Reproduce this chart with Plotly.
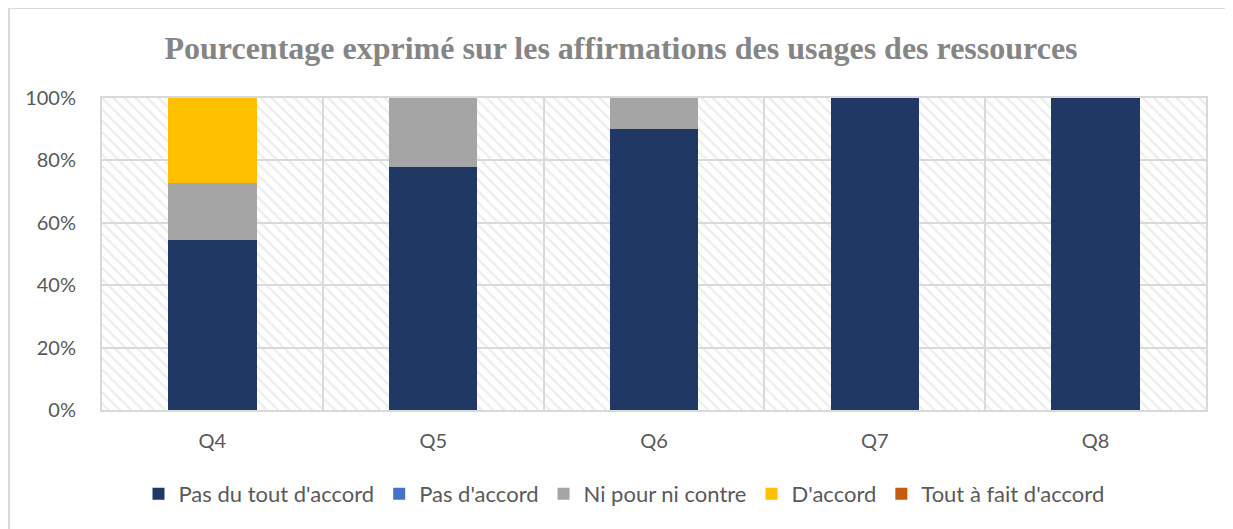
import plotly.graph_objects as go

categories = ["Q4", "Q5", "Q6", "Q7", "Q8"]
series_names = ["Pas du tout d'accord", "Pas d'accord", "Ni pour ni contre", "D'accord", "Tout à fait d'accord"]
pas_du_tout = [54.5, 77.8, 90.0, 100.0, 100.0]
pas_accord = [0, 0, 0, 0, 0]
ni_pour_ni_contre = [18.2, 22.2, 10.0, 0, 0]
d_accord = [27.3, 0, 0, 0, 0]
tout_a_fait = [0, 0, 0, 0, 0]
y_ticks = [0, 20, 40, 60, 80, 100]
y_tick_labels = ["0%", "20%", "40%", "60%", "80%", "100%"]

colors = ["#203864", "#4472c4", "#a5a5a5", "#ffc000", "#c55a11"]
values = [pas_du_tout, pas_accord, ni_pour_ni_contre, d_accord, tout_a_fait]

font_family = "Lato, 'Open Sans', sans-serif"
txt = "#595959"

fig = go.Figure()

# hatched plot-area background (main axes)
fig.add_trace(go.Bar(
    x=[2], y=[100], width=[5], base=[0],
    marker=dict(color="rgba(0,0,0,0)", line=dict(width=0),
                pattern=dict(shape="\\", fgcolor="#dcdcdc", bgcolor="rgba(0,0,0,0)",
                             size=8, solidity=0.3)),
    showlegend=False, hoverinfo="skip", xaxis="x", yaxis="y"))

x_idx = list(range(len(categories)))
for name, vals, col in zip(series_names, values, colors):
    fig.add_trace(go.Bar(
        x=x_idx, y=vals, name=name, width=0.4,
        marker=dict(color=col, line=dict(width=0)),
        xaxis="x2", yaxis="y2"))

border_x = (9 - 102) / 1104
border_y = (410 - 8) / 312

fig.update_layout(
    width=1225, height=521,
    barmode="stack",
    paper_bgcolor="white", plot_bgcolor="white",
    margin=dict(l=94, r=27, t=90, b=119),
    title=dict(text="<b>Pourcentage exprimé sur les affirmations des usages des ressources</b>",
               x=(621 - 8 - 94) / 1104, xref="paper", xanchor="center",
               y=1 - (48 - 8) / 521, yanchor="middle",
               font=dict(family="'Liberation Serif', 'Times New Roman', serif", size=32, color="#858585")),
    xaxis=dict(range=[-0.5, 4.5], tickvals=x_idx, ticktext=categories,
               showgrid=False, zeroline=False,
               showline=True, linecolor="#d9d9d9", linewidth=2, mirror=True,
               ticks="", ticklabelstandoff=12,
               tickfont=dict(family=font_family, size=20, color=txt),
               minor=dict(tick0=0.5, dtick=1, showgrid=True, gridcolor="#d9d9d9", gridwidth=2, ticks="")),
    yaxis=dict(range=[0, 100], tickvals=y_ticks, ticktext=y_tick_labels,
               showgrid=True, gridcolor="#d9d9d9", gridwidth=2, zeroline=False,
               showline=True, linecolor="#d9d9d9", linewidth=2, mirror=True,
               ticks="", ticklabelstandoff=20,
               tickfont=dict(family=font_family, size=20, color=txt)),
    xaxis2=dict(range=[-0.5, 4.5], overlaying="x", visible=False),
    yaxis2=dict(range=[0, 100], overlaying="y", visible=False),
    legend=dict(orientation="h", x=(624 - 8 - 94) / 1104, xanchor="center",
                y=-(494 - 410) / 312, yanchor="middle",
                font=dict(family=font_family, size=22, color=txt),
                itemwidth=30, traceorder="normal"),
    shapes=[
        dict(type="line", xref="paper", yref="paper",
             x0=border_x, x1=border_x, y0=-0.8, y1=border_y,
             line=dict(color="#d9d9d9", width=2), layer="below"),
        dict(type="line", xref="paper", yref="paper",
             x0=border_x, x1=1.3, y0=border_y, y1=border_y,
             line=dict(color="#d9d9d9", width=2), layer="below"),
    ],
)

fig.write_html("out.html")
